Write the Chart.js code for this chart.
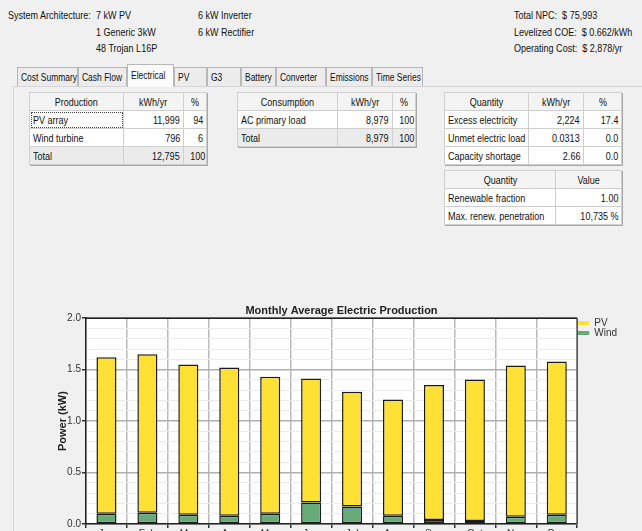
<!DOCTYPE html>
<html>
<head>
<meta charset="utf-8">
<script src="https://cdn.jsdelivr.net/npm/chart.js@4"></script>
<style>
  html, body {
    margin: 0; padding: 0; width: 642px; height: 531px; overflow: hidden;
    background: #f0f0f0; color: #111;
    font-family: "Liberation Sans", Arial, sans-serif;
    font-size: 11px;
  }
  /* the UI font is a narrow one, so squeeze normal text horizontally */
  .t { position: absolute; white-space: nowrap; line-height: 14px; transform: scaleX(0.82); transform-origin: left center; }
  .tab {
    position: absolute; top: 67px; height: 19px; line-height: 18px; box-sizing: border-box;
    border: 1px solid #b8b8b8; border-bottom: none; background: #ececec; padding-left: 3px;
    white-space: nowrap;
  }
  .tab span { display: inline-block; transform: scaleX(0.77); transform-origin: left center; }
  .tab.sel { top: 64px; height: 23px; background: #fbfbfb; line-height: 20px; z-index: 2; }
  .panel { position: absolute; left: 13px; top: 86px; right: 0; bottom: 0;
    border-left: 1px solid #d6d6d6; border-top: 1px solid #d6d6d6; }
  table.g {
    position: absolute; border-collapse: collapse; table-layout: fixed;
    box-shadow: 1px 1px 0 #a8a8a8; font-size: 11px;
  }
  table.g td, table.g th {
    height: 17px; padding: 0 3px; border: 1px solid #cfcfcf; font-weight: normal;
    white-space: nowrap; overflow: hidden; background: #fff; text-align: left;
  }
  table.g th { background: #f4f4f4; text-align: center; }
  table.g tr.tot td { background: #ebebeb; }
  table.g td.n { text-align: right; }
  table.g span { display: inline-block; transform: scaleX(0.82); transform-origin: left center; }
  table.g th span { transform-origin: center center; }
  table.g td.n span { transform-origin: right center; }
  .focus { outline: 1px dotted #444; outline-offset: -2px; }
  #chartBox { position: absolute; left: 40px; top: 300px; }
</style>
</head>
<body>
  <div class="t" style="left:8px;top:8px">System Architecture:</div>
  <div class="t" style="left:96px;top:8px">7 kW PV</div>
  <div class="t" style="left:96px;top:25px">1 Generic 3kW</div>
  <div class="t" style="left:96px;top:41px">48 Trojan L16P</div>
  <div class="t" style="left:198px;top:8px">6 kW Inverter</div>
  <div class="t" style="left:198px;top:25px">6 kW Rectifier</div>
  <div class="t" style="left:514px;top:8px">Total NPC:&nbsp; $ 75,993</div>
  <div class="t" style="left:514px;top:25px">Levelized COE:&nbsp; $ 0.662/kWh</div>
  <div class="t" style="left:514px;top:41px">Operating Cost:&nbsp; $ 2,878/yr</div>

  <div class="panel"></div>
  <div class="tab" style="left:17px;width:61px"><span>Cost Summary</span></div>
  <div class="tab" style="left:78px;width:49px"><span>Cash Flow</span></div>
  <div class="tab sel" style="left:127px;width:47px"><span>Electrical</span></div>
  <div class="tab" style="left:174px;width:33px"><span>PV</span></div>
  <div class="tab" style="left:207px;width:34px"><span>G3</span></div>
  <div class="tab" style="left:241px;width:35px"><span>Battery</span></div>
  <div class="tab" style="left:276px;width:50px"><span>Converter</span></div>
  <div class="tab" style="left:326px;width:46px"><span>Emissions</span></div>
  <div class="tab" style="left:372px;width:51px"><span>Time Series</span></div>

  <table class="g" style="left:29px;top:92px;width:177px">
    <colgroup><col style="width:94px"><col style="width:60px"><col style="width:23px"></colgroup>
    <tr><th>Production</th><th>kWh/yr</th><th>%</th></tr>
    <tr><td class="focus">PV array</td><td class="n">11,999</td><td class="n">94</td></tr>
    <tr><td>Wind turbine</td><td class="n">796</td><td class="n">6</td></tr>
    <tr class="tot"><td>Total</td><td class="n">12,795</td><td class="n">100</td></tr>
  </table>

  <table class="g" style="left:237px;top:92px;width:178px">
    <colgroup><col style="width:100px"><col style="width:55px"><col style="width:23px"></colgroup>
    <tr><th>Consumption</th><th>kWh/yr</th><th>%</th></tr>
    <tr><td>AC primary load</td><td class="n">8,979</td><td class="n">100</td></tr>
    <tr class="tot"><td>Total</td><td class="n">8,979</td><td class="n">100</td></tr>
  </table>

  <table class="g" style="left:444px;top:92px;width:177px">
    <colgroup><col style="width:84px"><col style="width:55px"><col style="width:38px"></colgroup>
    <tr><th>Quantity</th><th>kWh/yr</th><th>%</th></tr>
    <tr><td>Excess electricity</td><td class="n">2,224</td><td class="n">17.4</td></tr>
    <tr><td>Unmet electric load</td><td class="n">0.0313</td><td class="n">0.0</td></tr>
    <tr><td>Capacity shortage</td><td class="n">2.66</td><td class="n">0.0</td></tr>
  </table>

  <table class="g" style="left:444px;top:170px;width:177px">
    <colgroup><col style="width:111px"><col style="width:66px"></colgroup>
    <tr><th>Quantity</th><th>Value</th></tr>
    <tr><td>Renewable fraction</td><td class="n">1.00</td></tr>
    <tr><td>Max. renew. penetration</td><td class="n">10,735 %</td></tr>
  </table>

  <div id="chartBox"><canvas id="prodChart" width="587" height="240"></canvas></div>

<script>
// wrap the table texts so they can be squeezed like the narrow UI font
document.querySelectorAll('table.g td, table.g th').forEach(c => {
    c.innerHTML = '<span>' + c.innerHTML + '</span>';
});

const months = ['Jan', 'Feb', 'Mar', 'Apr', 'May', 'Jun', 'Jul', 'Aug', 'Sep', 'Oct', 'Nov', 'Dec'];
// monthly average power, kW
const pvPower = [1.52, 1.54, 1.46, 1.44, 1.33, 1.205, 1.115, 1.13, 1.31, 1.375, 1.47, 1.49];
const windPower = [0.10, 0.11, 0.09, 0.08, 0.10, 0.21, 0.17, 0.08, 0.04, 0.03, 0.07, 0.09];
const yMin = 0;
const yMax = 2;
const yStep = 0.1;      // light minor lines
const yLabelEvery = 0.5; // labelled, darker lines

const isMajor = (v) => Math.abs(v / yLabelEvery - Math.round(v / yLabelEvery)) < 1e-6;

// white plot background and the dark frame round the plot area
const plotFrame = {
    id: 'plotFrame',
    beforeDraw(chart) {
        const {ctx, chartArea: a} = chart;
        ctx.save();
        ctx.fillStyle = '#ffffff';
        ctx.fillRect(a.left, a.top, a.right - a.left, a.bottom - a.top);
        ctx.restore();
    },
    afterDraw(chart) {
        const {ctx, chartArea: a} = chart;
        ctx.save();
        ctx.lineWidth = 1.5;
        ctx.strokeStyle = '#222';
        ctx.beginPath();
        ctx.moveTo(a.left, a.top);
        ctx.lineTo(a.right, a.top);
        ctx.stroke();
        ctx.strokeStyle = '#555';
        ctx.beginPath();
        ctx.moveTo(a.right, a.top);
        ctx.lineTo(a.right, a.bottom);
        ctx.stroke();
        ctx.restore();
    }
};

const axisFont = {family: 'Liberation Sans, Arial, sans-serif', size: 10};

const ctx = document.getElementById('prodChart');
new Chart(ctx, {
    type: 'bar',
    data: {
        labels: months,
        datasets: [{
            label: 'Wind',
            data: windPower,
            backgroundColor: '#66aa78',
            borderColor: '#1c1c1c',
            borderWidth: 1.5,
            borderSkipped: false,
            barPercentage: 0.49,
            categoryPercentage: 1
        }, {
            label: 'PV',
            data: pvPower,
            backgroundColor: '#ffe135',
            borderColor: '#1c1c1c',
            borderWidth: 1.5,
            borderSkipped: false,
            barPercentage: 0.49,
            categoryPercentage: 1
        }]
    },
    options: {
        responsive: false,
        animation: false,
        layout: {
            padding: {left: 16, right: 0, top: 0, bottom: 0}
        },
        scales: {
            x: {
                stacked: true,
                grid: {
                    offset: true,
                    color: '#bababa',
                    lineWidth: 1.5,
                    tickColor: '#333',
                    tickLength: 4
                },
                border: {color: '#222', width: 1.5},
                ticks: {color: '#333', padding: 0, font: axisFont}
            },
            y: {
                stacked: true,
                min: yMin,
                max: yMax,
                afterFit: (scale) => { scale.width = 30; },
                grid: {
                    color: (c) => isMajor(c.tick.value) ? '#b0b0b0' : '#ececec',
                    lineWidth: (c) => isMajor(c.tick.value) ? 1.5 : 1,
                    tickColor: (c) => isMajor(c.tick.value) ? '#333' : 'rgba(0,0,0,0)',
                    tickLength: 4
                },
                border: {color: '#222', width: 1.5},
                ticks: {
                    stepSize: yStep,
                    autoSkip: false,
                    maxTicksLimit: 40,
                    padding: 1,
                    color: '#333',
                    font: axisFont,
                    callback: (v) => isMajor(v) ? Number(v).toFixed(1) : ''
                },
                title: {
                    display: true,
                    text: 'Power (kW)',
                    color: '#222',
                    padding: {top: 0, bottom: 0},
                    font: {family: 'Liberation Sans, Arial, sans-serif', size: 11, weight: 'bold'}
                }
            }
        },
        plugins: {
            title: {
                display: true,
                text: 'Monthly Average Electric Production',
                color: '#222',
                padding: {top: 4, bottom: 1},
                font: {family: 'Liberation Sans, Arial, sans-serif', size: 11, weight: 'bold'}
            },
            legend: {
                position: 'right',
                align: 'start',
                reverse: true,
                title: {
                    display: true,
                    text: '',
                    padding: {top: 3, bottom: 3},
                    font: {size: 10}
                },
                labels: {
                    usePointStyle: true,
                    pointStyleWidth: 12,
                    boxHeight: 10,
                    padding: 0,
                    color: '#333',
                    font: axisFont,
                    generateLabels: (chart) => {
                        const items = Chart.defaults.plugins.legend.labels.generateLabels(chart);
                        return items.map((it) => Object.assign(it, {
                            pointStyle: 'line',
                            strokeStyle: chart.data.datasets[it.datasetIndex].backgroundColor,
                            lineWidth: 4
                        }));
                    }
                }
            },
            tooltip: {enabled: false}
        }
    },
    plugins: [plotFrame]
});
</script>
</body>
</html>
